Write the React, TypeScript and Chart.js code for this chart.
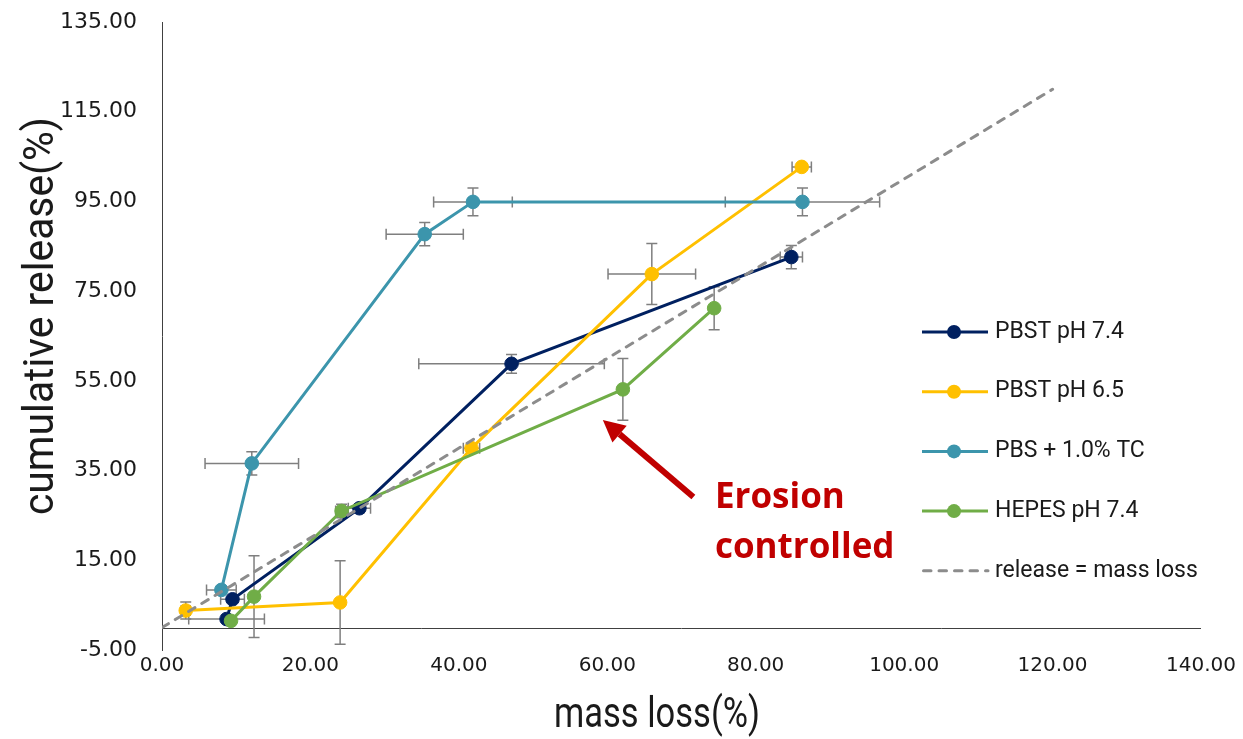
import React, { useEffect, useRef } from "react";
import { Chart, registerables } from "chart.js";

Chart.register(...registerables);

// ---------- data ----------
const X_TICKS = [0, 20, 40, 60, 80, 100, 120, 140];
const Y_TICKS = [-5, 15, 35, 55, 75, 95, 115, 135];

const SERIES_NAMES = ["PBST pH 7.4", "PBST pH 6.5", "PBS + 1.0% TC", "HEPES pH 7.4"];
const REF_NAME = "release = mass loss";

const PBST74_X = [8.7, 9.5, 26.6, 47.1, 84.8];
const PBST74_Y = [1.9, 6.3, 26.6, 58.8, 82.6];
const PBST74_XERR = [5.1, 1.6, 1.5, 12.5, 1.5];
const PBST74_YERR = [0, 0, 1.0, 2.1, 2.6];

const PBST65_X = [3.2, 24.0, 41.7, 66.0, 86.2];
const PBST65_Y = [3.8, 5.6, 40.0, 78.8, 102.7];
const PBST65_XERR = [0.6, 0, 1.1, 5.9, 1.3];
const PBST65_YERR = [1.9, 9.3, 0.8, 6.8, 0.6];

const TC_X = [8.0, 12.1, 35.4, 41.9, 86.3];
const TC_Y = [8.4, 36.6, 87.7, 94.9, 94.9];
const TC_XERR = [2.0, 6.3, 5.2, 5.3, 10.4];
const TC_YERR = [0.8, 2.6, 2.6, 3.1, 3.1];

const HEPES_X = [9.3, 12.4, 24.2, 62.1, 74.4];
const HEPES_Y = [1.5, 6.9, 26.0, 53.1, 71.2];
const HEPES_XERR = [0, 0, 0.8, 0, 0];
const HEPES_YERR = [0, 9.1, 1.5, 6.9, 4.8];

const REF_X = [0, 120];
const REF_Y = [0, 120];

// annotation (data coordinates)
const NOTE_LINES = ["Erosion", "controlled"];
const NOTE_X = 74.5;
const NOTE_Y = 26.7;
const ARROW_TAIL = { x: 71.6, y: 29.1 };
const ARROW_TIP = { x: 59.4, y: 46.3 };

// ---------- styles ----------
const COLORS = ["#002060", "#FFC000", "#3C95AC", "#70AD47"];
const REF_COLOR = "#8c8c8c";
const ERR_COLOR = "#7f7f7f";
const AXIS_COLOR = "#404040";
const TEXT_COLOR = "#1a1a1a";
const NOTE_COLOR = "#C00000";

const toPoints = (xs: number[], ys: number[]) => xs.map((x, i) => ({ x, y: ys[i] }));

const ERROR_SETS = [
  { xs: PBST74_X, ys: PBST74_Y, xe: PBST74_XERR, ye: PBST74_YERR },
  { xs: PBST65_X, ys: PBST65_Y, xe: PBST65_XERR, ye: PBST65_YERR },
  { xs: TC_X, ys: TC_Y, xe: TC_XERR, ye: TC_YERR },
  { xs: HEPES_X, ys: HEPES_Y, xe: HEPES_XERR, ye: HEPES_YERR },
];

const customPlugin = {
  id: "customDraw",
  beforeDatasetsDraw(chart: any) {
    const { ctx, chartArea } = chart;
    const xs = chart.scales.x;
    const ys = chart.scales.y;
    ctx.save();
    // horizontal axis line at y = 0
    const y0 = Math.round(ys.getPixelForValue(0)) + 0.5;
    ctx.strokeStyle = AXIS_COLOR;
    ctx.lineWidth = 1;
    ctx.beginPath();
    ctx.moveTo(chartArea.left, y0);
    ctx.lineTo(chartArea.right, y0);
    ctx.stroke();

    // error bars
    const CAP = 5.5;
    ctx.strokeStyle = ERR_COLOR;
    ctx.lineWidth = 1.5;
    ERROR_SETS.forEach((s) => {
      s.xs.forEach((xv, i) => {
        const yv = s.ys[i];
        const px = xs.getPixelForValue(xv);
        const py = ys.getPixelForValue(yv);
        const xe = s.xe[i];
        const ye = s.ye[i];
        ctx.beginPath();
        if (xe > 0) {
          const l = xs.getPixelForValue(xv - xe);
          const r = xs.getPixelForValue(xv + xe);
          ctx.moveTo(l, py); ctx.lineTo(r, py);
          ctx.moveTo(l, py - CAP); ctx.lineTo(l, py + CAP);
          ctx.moveTo(r, py - CAP); ctx.lineTo(r, py + CAP);
        }
        if (ye > 0) {
          const t = ys.getPixelForValue(yv + ye);
          const b = ys.getPixelForValue(yv - ye);
          ctx.moveTo(px, t); ctx.lineTo(px, b);
          ctx.moveTo(px - CAP, t); ctx.lineTo(px + CAP, t);
          ctx.moveTo(px - CAP, b); ctx.lineTo(px + CAP, b);
        }
        ctx.stroke();
      });
    });
    ctx.restore();
  },
  afterDraw(chart: any) {
    const { ctx } = chart;
    const xs = chart.scales.x;
    const ys = chart.scales.y;
    ctx.save();

    // axis titles
    ctx.fillStyle = TEXT_COLOR;
    ctx.font = "42px Roboto";
    ctx.textAlign = "center";
    ctx.textBaseline = "middle";
    ctx.fillText("mass loss(%)", 657, 716, 206);
    ctx.save();
    ctx.translate(42, 316);
    ctx.rotate(-Math.PI / 2);
    ctx.fillText("cumulative release(%)", 0, 0, 398);
    ctx.restore();

    // legend
    const LX0 = 922, LX1 = 988, LMX = 954, LTX = 995, LTOP = 332, LGAP = 59.7;
    ctx.font = "23px Roboto";
    ctx.textAlign = "left";
    ctx.textBaseline = "middle";
    SERIES_NAMES.forEach((name, i) => {
      const yy = LTOP + i * LGAP;
      ctx.strokeStyle = COLORS[i];
      ctx.fillStyle = COLORS[i];
      ctx.lineWidth = 3;
      ctx.setLineDash([]);
      ctx.beginPath();
      ctx.moveTo(LX0, yy); ctx.lineTo(LX1, yy);
      ctx.stroke();
      ctx.beginPath();
      ctx.arc(LMX, yy, 7, 0, Math.PI * 2);
      ctx.fill();
      ctx.fillStyle = TEXT_COLOR;
      ctx.fillText(name, LTX, yy);
    });
    {
      const yy = LTOP + 4 * LGAP;
      ctx.strokeStyle = REF_COLOR;
      ctx.lineWidth = 3;
      ctx.lineCap = "round";
      ctx.setLineDash([7.5, 8]);
      ctx.beginPath();
      ctx.moveTo(LX0 + 1.5, yy); ctx.lineTo(LX1, yy);
      ctx.stroke();
      ctx.setLineDash([]);
      ctx.lineCap = "butt";
      ctx.fillStyle = TEXT_COLOR;
      ctx.fillText(REF_NAME, LTX, yy);
    }

    // annotation arrow
    const tx = xs.getPixelForValue(ARROW_TAIL.x), ty = ys.getPixelForValue(ARROW_TAIL.y);
    const hx = xs.getPixelForValue(ARROW_TIP.x), hy = ys.getPixelForValue(ARROW_TIP.y);
    const ang = Math.atan2(hy - ty, hx - tx);
    const HL = 22, HW = 11;
    const bx = hx - HL * Math.cos(ang), by = hy - HL * Math.sin(ang);
    ctx.strokeStyle = NOTE_COLOR;
    ctx.fillStyle = NOTE_COLOR;
    ctx.lineWidth = 6;
    ctx.beginPath();
    ctx.moveTo(tx, ty); ctx.lineTo(bx, by);
    ctx.stroke();
    ctx.beginPath();
    ctx.moveTo(hx, hy);
    ctx.lineTo(bx + HW * Math.sin(ang), by - HW * Math.cos(ang));
    ctx.lineTo(bx - HW * Math.sin(ang), by + HW * Math.cos(ang));
    ctx.closePath();
    ctx.fill();

    // annotation text
    ctx.font = "bold 35px 'Open Sans'";
    ctx.textAlign = "left";
    ctx.textBaseline = "alphabetic";
    const nx = xs.getPixelForValue(NOTE_X);
    const ny = ys.getPixelForValue(NOTE_Y);
    NOTE_LINES.forEach((t, i) => ctx.fillText(t, nx, ny + i * 50));

    ctx.restore();
  },
};

export default function App() {
  const ref = useRef<HTMLCanvasElement>(null);
  useEffect(() => {
    const canvas = ref.current as HTMLCanvasElement;
    const lineDs = (label: string, xs: number[], ys: number[], color: string, order: number) => ({
      label,
      data: toPoints(xs, ys),
      showLine: true,
      borderColor: color,
      backgroundColor: color,
      borderWidth: 3,
      pointRadius: 6.8,
      pointBorderWidth: 1,
      pointBackgroundColor: color,
      pointBorderColor: color,
      order,
    });
    const chart = new Chart(canvas, {
      type: "scatter",
      data: {
        datasets: [
          lineDs(SERIES_NAMES[0], PBST74_X, PBST74_Y, COLORS[0], 5),
          lineDs(SERIES_NAMES[1], PBST65_X, PBST65_Y, COLORS[1], 4),
          lineDs(SERIES_NAMES[2], TC_X, TC_Y, COLORS[2], 3),
          lineDs(SERIES_NAMES[3], HEPES_X, HEPES_Y, COLORS[3], 2),
          {
            label: REF_NAME,
            data: toPoints(REF_X, REF_Y),
            showLine: true,
            borderColor: REF_COLOR,
            backgroundColor: REF_COLOR,
            borderWidth: 3,
            borderDash: [7.5, 8],
            borderCapStyle: "round",
            pointRadius: 0,
            order: 1,
          } as any,
        ],
      },
      options: {
        responsive: false,
        animation: false,
        layout: { padding: { left: 8, top: 22, right: 42, bottom: 0 } },
        plugins: {
          legend: { display: false },
          tooltip: { enabled: false },
          title: { display: false },
        },
        scales: {
          x: {
            type: "linear",
            min: 0,
            max: 140,
            afterBuildTicks: (s: any) => { s.ticks = X_TICKS.map((v) => ({ value: v })); },
            afterFit: (s: any) => { s.height = 89; },
            grid: { display: false, drawTicks: false },
            border: { display: false },
            ticks: {
              callback: (v: any) => Number(v).toFixed(2),
              font: { family: "DejaVu Sans", size: 20 },
              color: TEXT_COLOR,
              padding: 4,
              maxRotation: 0,
              autoSkip: false,
            },
          },
          y: {
            type: "linear",
            min: -5,
            max: 135,
            afterBuildTicks: (s: any) => { s.ticks = Y_TICKS.map((v) => ({ value: v })); },
            afterFit: (s: any) => { s.width = 154; s.paddingTop = 10; s.paddingBottom = 10; },
            grid: { display: false, drawTicks: false },
            border: { display: true, color: AXIS_COLOR, width: 1 },
            ticks: {
              callback: (v: any) => Number(v).toFixed(2),
              font: { family: "DejaVu Sans", size: 22 },
              color: TEXT_COLOR,
              padding: 25,
              autoSkip: false,
            },
          },
        },
      },
      plugins: [customPlugin],
    } as any);
    return () => chart.destroy();
  }, []);
  return (
    <canvas
      ref={ref}
      width={1243}
      height={739}
      style={{ position: "absolute", left: 0, top: 0, display: "block" }}
    />
  );
}
